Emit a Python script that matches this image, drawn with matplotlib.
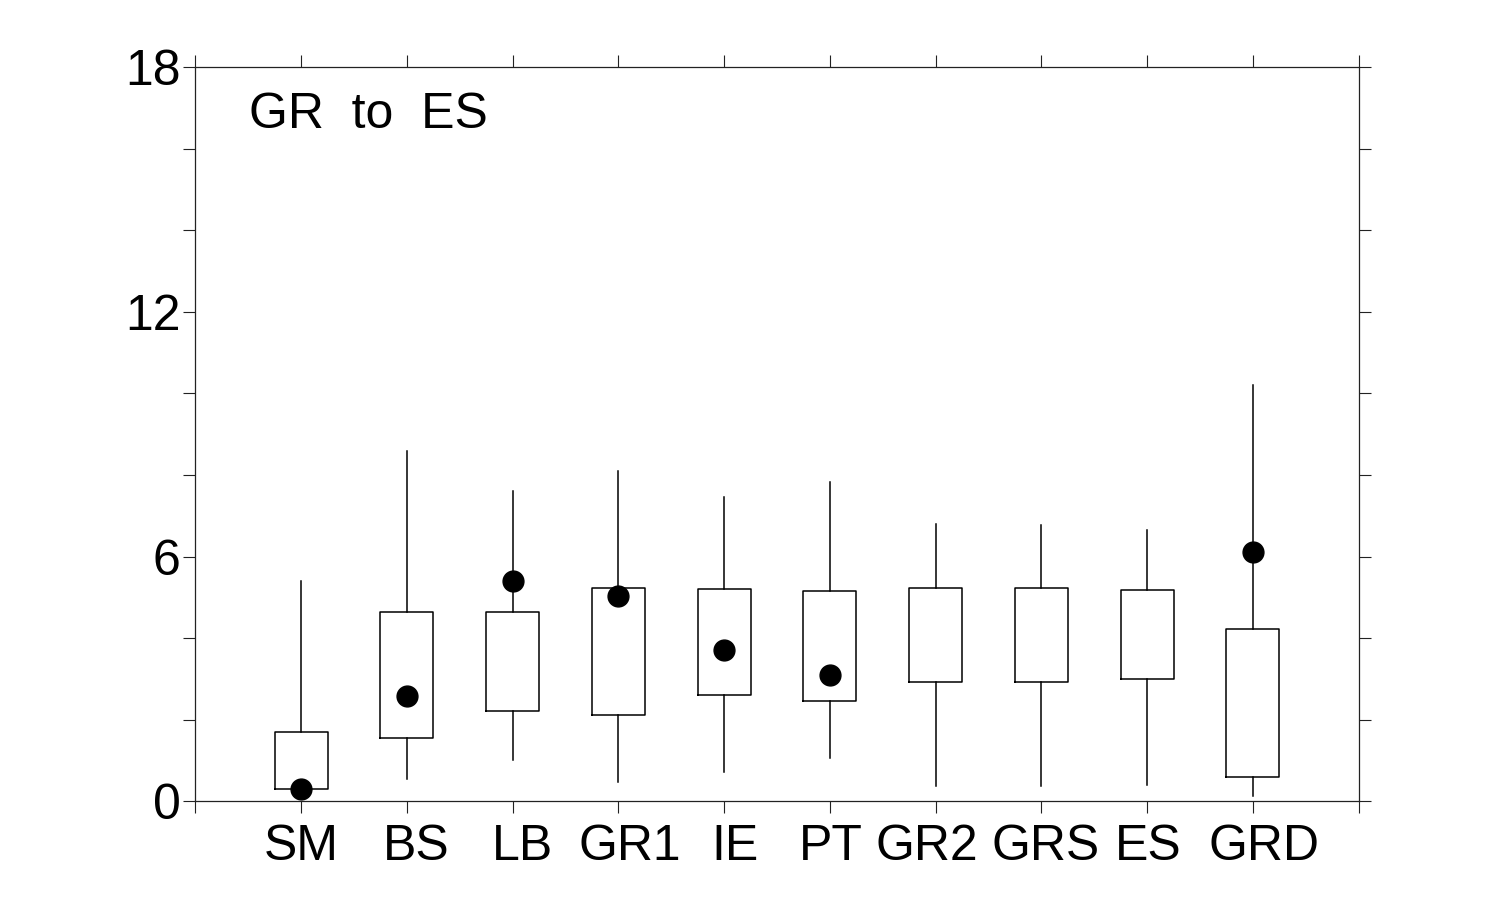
import matplotlib
matplotlib.use("Agg")
import matplotlib.pyplot as plt
from matplotlib.ticker import MultipleLocator
from matplotlib.transforms import ScaledTranslation

plt.rcParams['font.family'] = ['Liberation Sans', 'DejaVu Sans']

categories = ["SM", "BS", "LB", "GR1", "IE", "PT", "GR2", "GRS", "ES", "GRD"]
whisker_low = [0.29, 0.54, 1.01, 0.47, 0.71, 1.05, 0.38, 0.38, 0.39, 0.13]
box_low     = [0.29, 1.54, 2.21, 2.11, 2.60, 2.45, 2.92, 2.92, 2.99, 0.59]
box_high    = [1.69, 4.63, 4.63, 5.22, 5.20, 5.15, 5.22, 5.22, 5.17, 4.22]
whisker_high= [5.41, 8.59, 7.61, 8.11, 7.47, 7.84, 6.79, 6.77, 6.66, 10.21]
dot_values  = [0.29, 2.58, 5.39, 5.03, 3.72, 3.09, None, None, None, 6.11]
y_ticks = [0, 6, 12, 18]
y_tick_labels = ["0", "6", "12", "18"]
panel_label = "GR  to  ES"

fig = plt.figure(figsize=(15, 9), dpi=100)
ax = fig.add_axes([0.1302, 0.1097, 0.7756, 0.8156])

positions = list(range(1, len(categories) + 1))
stats = []
for c, wl, q1, q3, wh in zip(categories, whisker_low, box_low, box_high, whisker_high):
    stats.append(dict(label=c, whislo=wl, q1=q1, med=q1, q3=q3, whishi=wh, fliers=[]))

ax.bxp(stats, positions=positions, widths=0.5, showcaps=False, showfliers=False,
       boxprops=dict(color='black', linewidth=1.1),
       whiskerprops=dict(color='black', linewidth=1.1),
       medianprops=dict(linewidth=0), manage_ticks=False)

dx = [p for p, v in zip(positions, dot_values) if v is not None]
dy = [v for v in dot_values if v is not None]
ax.plot(dx, dy, 'o', color='black', markersize=15, zorder=5, clip_on=False)

ax.set_xlim(0, 11)
ax.set_ylim(0, 18)
ax.set_xticks(range(0, 12))
ax.set_xticklabels([''] + categories + [''])
ax.set_yticks(y_ticks)
ax.set_yticklabels(y_tick_labels)
ax.yaxis.set_minor_locator(MultipleLocator(2))

spine_col = '#222222'
for s in ax.spines.values():
    s.set_linewidth(0.9)
    s.set_color(spine_col)

ax.tick_params(axis='both', which='both', direction='out', length=8.6, width=0.8,
               color=spine_col, top=True, right=True, labelsize=36)
ax.tick_params(axis='y', pad=2)
ax.tick_params(axis='x', pad=8)

offsets_px = [0, 0, 9, 10, 11, 11, 1, -9, 4, 1, 11, 0]
for lab, off in zip(ax.get_xticklabels(), offsets_px):
    lab.set_transform(lab.get_transform() + ScaledTranslation(off / 100.0, 0, fig.dpi_scale_trans))

ax.text(0.51, 16.5, panel_label, fontsize=36, ha='left', va='baseline')

fig.savefig("out.png", dpi=100)
